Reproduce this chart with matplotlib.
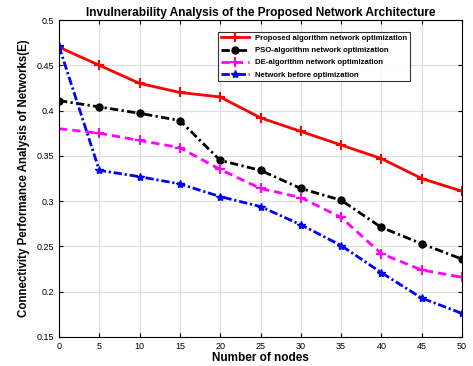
import matplotlib
matplotlib.use("Agg")
import matplotlib.pyplot as plt

plt.rcParams["font.family"] = ["Liberation Sans", "DejaVu Sans"]

nodes = [0, 5, 10, 15, 20, 25, 30, 35, 40, 45, 50]
proposed = [0.470, 0.450, 0.430, 0.420, 0.415, 0.392, 0.377, 0.362, 0.347, 0.325, 0.311]
pso = [0.411, 0.404, 0.397, 0.389, 0.345, 0.334, 0.314, 0.301, 0.271, 0.253, 0.236]
de = [0.380, 0.375, 0.367, 0.359, 0.335, 0.314, 0.304, 0.282, 0.242, 0.224, 0.216]
before = [0.471, 0.334, 0.327, 0.319, 0.305, 0.294, 0.274, 0.251, 0.221, 0.193, 0.176]

fig = plt.figure(figsize=(4.73, 3.66), dpi=100)
ax = fig.add_axes([59 / 473, 1 - 337 / 366, 403 / 473, 317 / 366])

ax.plot(nodes, proposed, "-", marker="+", color="red", linewidth=2, markersize=7,
        markeredgewidth=1.5, label="Proposed algorithm network optimization")
ax.plot(nodes, pso, "-.", marker="o", color="black", linewidth=2, markersize=5,
        dashes=(3, 1.2, 0.8, 1.2), label="PSO-algorithm network optimization")
ax.plot(nodes, de, "--", marker="+", color="magenta", linewidth=2, markersize=7,
        markeredgewidth=1.5, dashes=(3, 1.8), label="DE-algorithm network optimization")
ax.plot(nodes, before, "-.", marker="*", color="blue", linewidth=2, markersize=6,
        dashes=(3, 1.0, 0.8, 1.0), label="Network before optimization")

ax.set_xlim(0, 50)
ax.set_ylim(0.15, 0.5)
ax.set_xticks(nodes)
ax.set_yticks([0.15, 0.2, 0.25, 0.3, 0.35, 0.4, 0.45, 0.5])
ax.set_yticklabels(["0.15", "0.2", "0.25", "0.3", "0.35", "0.4", "0.45", "0.5"])
ax.tick_params(direction="in", top=True, right=True, labelsize=6.5, length=3)
ax.grid(True, color="#dddddd", linewidth=0.8)
ax.set_axisbelow(True)

ax.set_xlabel("Number of nodes", fontsize=8.5, fontweight="bold", labelpad=1)
ax.set_ylabel("Connectivity Performance Analysis of Networks(E)", fontsize=8.3,
              fontweight="bold", labelpad=5)
ax.set_title("Invulnerability Analysis of the Proposed Network Architecture",
             fontsize=8.6, fontweight="bold", pad=3)

leg = ax.legend(loc="upper right", bbox_to_anchor=(0.871, 0.962), borderaxespad=0,
                fontsize=5.6, frameon=True, fancybox=False, edgecolor="black",
                handlelength=3.7, borderpad=0.35, labelspacing=0.6, handletextpad=0.75)
leg.get_frame().set_linewidth(0.8)
for t in leg.get_texts():
    t.set_fontweight("bold")

fig.savefig("out.png", dpi=100)
